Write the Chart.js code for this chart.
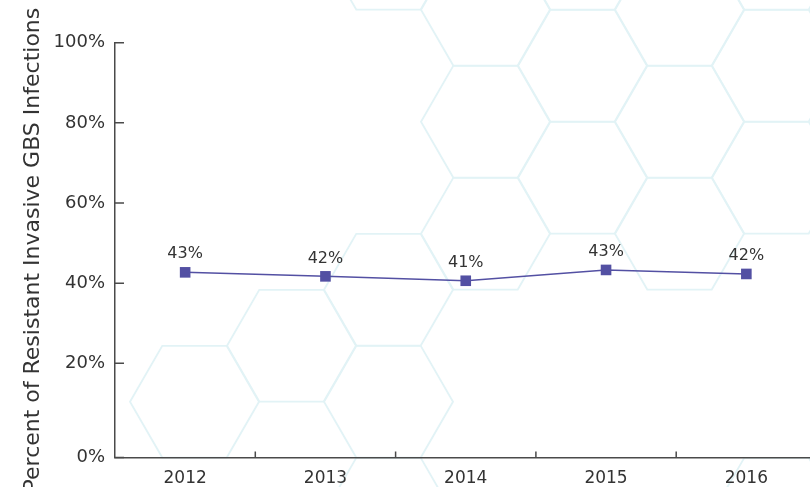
<!DOCTYPE html>
<html>
<head>
<meta charset="utf-8">
<script src="https://cdn.jsdelivr.net/npm/chart.js@4.4.1/dist/chart.umd.min.js"></script>
<style>
  html, body { margin: 0; padding: 0; overflow: hidden; background: #fff; }
  /* un peu plus large que la fenêtre : l'axe X déborde à droite comme sur l'original */
  #wrap { width: 824px; height: 487px; }
</style>
</head>
<body>
<div id="wrap"><canvas id="chart"></canvas></div>
<script>
// Données
const years = ['2012', '2013', '2014', '2015', '2016'];
const resistantPct = [42.7, 41.7, 40.6, 43.3, 42.3];
const valueLabels = ['43%', '42%', '41%', '43%', '42%'];
const yTicks = [0, 20, 40, 60, 80, 100];
const yTickLabels = ['0%', '20%', '40%', '60%', '80%', '100%'];

const lineColor = '#5350a3';
const axisColor = '#4a4a4a';
const textColor = '#333333';
const fontFamily = "'DejaVu Sans', sans-serif";

// fond en nid d'abeille (décor) : [colonne, rangée]
const hexCells = [[-3, 3], [-2, 2], [-1, -1], [-1, 2], [-1, 3], [-1, 4],
  [0, -1], [0, 0], [0, 1], [1, -1], [1, 0], [1, 1],
  [2, -1], [2, 0], [2, 1], [3, -1], [3, 0], [3, 1], [3, 4]];

const hexBackdrop = {
  id: 'hexBackdrop',
  beforeDraw(chart) {
    const c = chart.ctx;
    c.save();
    c.fillStyle = '#fff';
    c.fillRect(0, 0, chart.width, chart.height);
    c.strokeStyle = '#e2f3f6';
    c.lineWidth = 1.8;
    const s = 64.5;
    hexCells.forEach(([col, row]) => {
      const cx = 485.5 + 97 * col;
      const cy = 121.7 + 112 * row - (Math.abs(col) % 2 === 1 ? 56 : 0);
      c.beginPath();
      for (let i = 0; i < 6; i++) {
        const a = Math.PI / 3 * i;
        const px = cx + s * Math.cos(a), py = cy + s * Math.sin(a);
        if (i === 0) c.moveTo(px, py); else c.lineTo(px, py);
      }
      c.closePath();
      c.stroke();
    });
    c.restore();
  }
};

// petits traits de graduation tournés vers l'intérieur
const innerTicks = {
  id: 'innerTicks',
  afterDraw(chart) {
    const c = chart.ctx;
    const x = chart.scales.x, y = chart.scales.y;
    c.save();
    c.strokeStyle = axisColor;
    c.lineWidth = 1.5;
    c.beginPath();
    y.ticks.forEach((t, i) => {
      const py = y.getPixelForTick(i);
      c.moveTo(y.right, py);
      c.lineTo(y.right + 9, py);
    });
    for (let i = 1; i < years.length; i++) {
      const px = (x.getPixelForTick(i - 1) + x.getPixelForTick(i)) / 2;
      c.moveTo(px, x.top);
      c.lineTo(px, x.top - 6);
    }
    c.stroke();
    c.restore();
  }
};

const pointValueLabels = {
  id: 'pointValueLabels',
  afterDatasetsDraw(chart) {
    const c = chart.ctx;
    const meta = chart.getDatasetMeta(0);
    c.save();
    c.font = '16px ' + fontFamily;
    c.fillStyle = textColor;
    c.textAlign = 'center';
    c.textBaseline = 'middle';
    meta.data.forEach((pt, i) => {
      c.fillText(valueLabels[i], pt.x, pt.y - 18);
    });
    c.restore();
  }
};

const ctx = document.getElementById('chart').getContext('2d');
new Chart(ctx, {
  type: 'line',
  data: {
    labels: years,
    datasets: [{
      data: resistantPct,
      borderColor: lineColor,
      backgroundColor: lineColor,
      borderWidth: 1.5,
      pointStyle: 'rect',
      pointRadius: 7.5,
      pointBorderWidth: 0,
      tension: 0,
      clip: false
    }]
  },
  options: {
    responsive: true,
    maintainAspectRatio: false,
    animation: false,
    devicePixelRatio: 1,
    layout: { padding: { top: 42.7, right: 1, left: 0, bottom: 0 } },
    scales: {
      x: {
        type: 'category',
        offset: true,
        grid: { display: true, drawOnChartArea: false, drawTicks: false },
        border: { display: true, color: axisColor, width: 1.5 },
        ticks: {
          color: textColor,
          font: { family: fontFamily, size: 17 },
          padding: 11,
          maxRotation: 0
        },
        afterFit(scale) { scale.height = 29.5; }
      },
      y: {
        type: 'linear',
        min: -3.5,
        max: 100,
        afterBuildTicks(scale) {
          scale.ticks = yTicks.map(v => ({ value: v === 0 ? scale.min : v }));
        },
        grid: { display: true, drawOnChartArea: false, drawTicks: false },
        border: { display: true, color: axisColor, width: 1.5 },
        ticks: {
          color: textColor,
          font: { family: fontFamily, size: 18 },
          padding: 10,
          callback: (v, i) => yTickLabels[i]
        },
        title: {
          display: true,
          text: 'Percent of Resistant Invasive GBS Infections',
          color: textColor,
          font: { family: fontFamily, size: 22 },
          padding: { top: 20, bottom: 0 }
        },
        afterFit(scale) { scale.width = 115; }
      }
    },
    plugins: {
      legend: { display: false },
      tooltip: { enabled: false }
    }
  },
  plugins: [hexBackdrop, innerTicks, pointValueLabels]
});
</script>
</body>
</html>
